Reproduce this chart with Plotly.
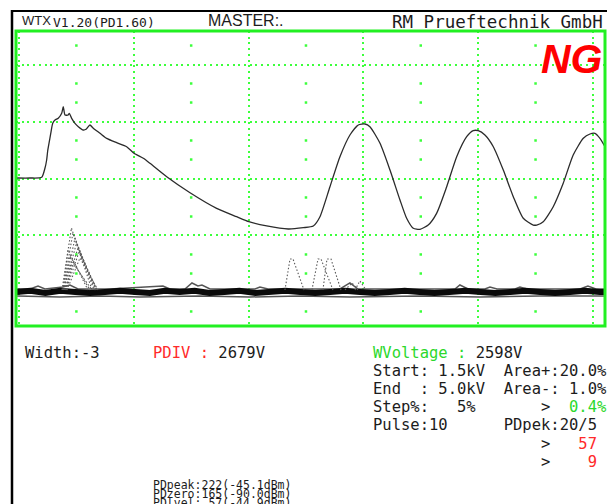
import plotly.graph_objects as go

# ---------------------------------------------------------------------------
# Screen geometry (pixels) and the scope graticule (in divisions)
# ---------------------------------------------------------------------------
W, H = 607, 504
L, R, T, B = 16, 605, 31, 326          # plotting window inside the green frame

X_RANGE = [-0.026, 5.105]
Y_RANGE = [-0.588, 4.588]
X_MAJOR = [0, 1, 2, 3, 4, 5]
Y_MAJOR = [0, 1, 2, 3, 4]
X_HALF = [0.5, 1.5, 2.5, 3.5, 4.5]
Y_THIRD = [-0.333, 0.333, 0.667, 1.333, 1.667, 2.333, 2.667, 3.333, 3.667, 4.333]

# ---------------------------------------------------------------------------
# Test-voltage trace (time in div, amplitude in div)
# ---------------------------------------------------------------------------
sig_t = [-0.017, 0.096, 0.198, 0.226, 0.241, 0.250, 0.264, 0.276, 0.294, 0.314,
         0.342, 0.372, 0.386, 0.401, 0.429, 0.438, 0.459, 0.488, 0.517, 0.560,
         0.584, 0.618, 0.647, 0.706, 0.764, 0.851, 0.938, 1.002, 1.083, 1.141,
         1.287, 1.490, 1.722, 1.896, 2.003, 2.158, 2.346, 2.477, 2.564, 2.622,
         2.709, 2.796, 2.883, 2.956, 3.014, 3.057, 3.145, 3.232, 3.319, 3.377,
         3.435, 3.493, 3.565, 3.638, 3.726, 3.813, 3.900, 3.957, 4.001, 4.059,
         4.132, 4.219, 4.306, 4.393, 4.480, 4.510, 4.567, 4.654, 4.741, 4.828,
         4.916, 4.974, 5.017, 5.061, 5.105]
sig_v = [2.009, 2.009, 2.021, 2.179, 2.325, 2.482, 2.646, 2.781, 2.968, 3.026,
         3.056, 3.144, 3.260, 3.114, 3.114, 3.144, 3.056, 2.968, 2.909, 2.851,
         2.863, 2.939, 2.881, 2.793, 2.705, 2.628, 2.558, 2.442, 2.354, 2.267,
         2.032, 1.751, 1.477, 1.330, 1.242, 1.167, 1.114, 1.137, 1.167, 1.330,
         1.856, 2.382, 2.763, 2.939, 2.956, 2.909, 2.618, 2.149, 1.623, 1.302,
         1.126, 1.109, 1.184, 1.389, 1.856, 2.382, 2.733, 2.839, 2.839, 2.763,
         2.558, 2.149, 1.681, 1.302, 1.184, 1.184, 1.242, 1.505, 1.916, 2.412,
         2.705, 2.781, 2.793, 2.705, 2.558]

# ---------------------------------------------------------------------------
# PD channel: baseline band and the recorded discharge pulses
# ---------------------------------------------------------------------------
band_t = [-0.02, 0.10, 0.23, 0.36, 0.49, 0.62, 0.75, 0.88, 1.01, 1.14, 1.27,
          1.40, 1.53, 1.66, 1.79, 1.92, 2.06, 2.19, 2.32, 2.45, 2.58, 2.71,
          2.84, 2.97, 3.10, 3.23, 3.36, 3.49, 3.62, 3.75, 3.89, 4.02, 4.15,
          4.28, 4.41, 4.54, 4.67, 4.80, 4.93, 5.06, 5.11]
band_v = [0.01, 0.03, -0.01, 0.03, 0.01, -0.01, 0.01, 0.03, 0.01, -0.01, 0.03,
          0.01, 0.03, -0.01, 0.01, 0.03, -0.01, 0.01, 0.03, 0.01, -0.01, 0.01,
          0.03, 0.01, -0.01, 0.01, 0.03, 0.01, -0.01, 0.01, 0.03, 0.01, -0.01,
          0.01, 0.03, 0.01, -0.01, 0.01, 0.03, 0.01, 0.01]

fringe_top_t = [-0.017, 0.096, 0.166, 0.226, 0.383, 0.444, 0.514, 0.793, 1.254,
                1.315, 1.446, 1.507, 1.559, 1.594, 1.664, 2.056, 2.099, 2.169,
                2.796, 2.883, 2.953, 3.798, 3.841, 3.911, 4.059, 4.103, 4.164,
                4.321, 4.364, 4.425, 4.887, 4.956, 5.026, 5.105]
fringe_top_v = [0.061, 0.061, 0.114, 0.061, 0.096, 0.132, 0.061, 0.061, 0.114,
                0.061, 0.061, 0.167, 0.114, 0.132, 0.061, 0.061, 0.096, 0.061,
                0.061, 0.167, 0.061, 0.061, 0.132, 0.061, 0.061, 0.096, 0.061,
                0.061, 0.096, 0.061, 0.061, 0.114, 0.061, 0.061]
fringe_low_t = [-0.017, 0.357, 0.706, 1.054, 1.577, 2.012, 2.448, 2.883, 3.493,
                4.016, 4.538, 5.105]
fringe_low_v = [-0.061, -0.079, -0.061, -0.079, -0.061, -0.079, -0.061, -0.079,
                -0.061, -0.079, -0.061, -0.061]

PD_BASE = 0.044
pd_start = [0.375, 0.383, 0.392, 0.392, 0.401, 0.409, 0.383, 0.392, 0.409, 0.418,
            2.317, 2.552, 2.648, 2.840, 2.927]
pd_top0 = [0.457, 0.470, 0.488, 0.501, 0.514, 0.523, 0.427, 0.444, 0.462, 0.531,
           2.361, 2.605, 2.683, 2.901, 2.970]
pd_top1 = [0.457, 0.470, 0.488, 0.501, 0.514, 0.523, 0.427, 0.444, 0.462, 0.531,
           2.387, 2.631, 2.718, 2.901, 2.970]
pd_peak = [1.132, 1.044, 0.956, 0.868, 0.781, 0.711, 0.746, 0.640, 0.535, 0.605,
           0.588, 0.588, 0.588, 0.167, 0.202]
pd_end = [0.636, 0.653, 0.662, 0.671, 0.679, 0.679, 0.601, 0.618, 0.636, 0.688,
          2.483, 2.735, 2.805, 2.953, 3.023]

# ---------------------------------------------------------------------------
# Colours and fonts
# ---------------------------------------------------------------------------
GRID = "#3cff3c"
FRAME = "#22f022"
INK = "#1c1c1c"
TRACE = "#2b2b2b"
RED = "#ff2a2a"
GREEN = "#2cd82c"
MONO = "DejaVu Sans Mono, Liberation Mono, monospace"
SANS = "Liberation Sans, Arial, sans-serif"

fig = go.Figure()

# sparse graticule dots on the half-division columns
gx, gy = [], []
for x in X_HALF:
    for y in Y_THIRD:
        gx.append(x)
        gy.append(y)
fig.add_trace(go.Scatter(x=gx, y=gy, mode="markers", hoverinfo="skip",
                         marker=dict(symbol="square", size=2.5, color=GRID,
                                     line=dict(width=0))))

# PD baseline band
fig.add_trace(go.Scatter(x=fringe_low_t, y=fringe_low_v, mode="lines",
                         line=dict(color="#555555", width=1.5), hoverinfo="skip"))
fig.add_trace(go.Scatter(x=fringe_top_t, y=fringe_top_v, mode="lines",
                         line=dict(color="#555555", width=1.5), hoverinfo="skip"))
fig.add_trace(go.Scatter(x=band_t, y=band_v, mode="lines",
                         line=dict(color="#0a0a0a", width=6), hoverinfo="skip"))

# PD pulses
px_, py_ = [], []
for s, a, b, p, e in zip(pd_start, pd_top0, pd_top1, pd_peak, pd_end):
    px_ += [s, a, b, e, None]
    py_ += [PD_BASE, p, p, PD_BASE, None]
fig.add_trace(go.Scatter(x=px_, y=py_, mode="lines", hoverinfo="skip",
                         line=dict(color="#5a5a5a", width=1.1, dash="1.5px,2px")))

# test voltage
fig.add_trace(go.Scatter(x=sig_t, y=sig_v, mode="lines", hoverinfo="skip",
                         line=dict(color=TRACE, width=1.3, shape="spline",
                                   smoothing=0.6)))

axis_common = dict(showticklabels=False, ticks="", zeroline=False, showline=False,
                   showgrid=True, gridcolor=GRID, gridwidth=2,
                   griddash="2px,3.7px", fixedrange=True)
fig.update_xaxes(range=X_RANGE, tickvals=X_MAJOR, **axis_common)
fig.update_yaxes(range=Y_RANGE, tickvals=Y_MAJOR, **axis_common)


def pxx(px):
    return (px - L) / (R - L)


def pxy(py):
    return (B - py) / (B - T)


shapes = [
    # green window frame
    dict(type="rect", xref="paper", yref="paper", x0=0, x1=1, y0=0, y1=1,
         line=dict(color=FRAME, width=3)),
    # screen border lines
    dict(type="line", xref="paper", yref="paper", x0=pxx(12), x1=pxx(12),
         y0=pxy(10), y1=pxy(H), line=dict(color="#000000", width=2.5)),
    dict(type="line", xref="paper", yref="paper", x0=pxx(11), x1=pxx(W),
         y0=pxy(11), y1=pxy(11), line=dict(color="#000000", width=2)),
]

annotations = []


def label(text, x, y, size, color=INK, family=MONO, xanchor="left"):
    annotations.append(dict(text=text, x=pxx(x), y=pxy(y), xref="paper",
                            yref="paper", xanchor=xanchor, yanchor="middle",
                            showarrow=False, borderpad=0,
                            font=dict(family=family, size=size, color=color)))


def nb(s):
    return s.replace(" ", "\u00a0")


def span(s, color):
    return f'<span style="color:{color}">{nb(s)}</span>'


# header
label("WTX", 21, 20.5, 13, family=SANS)
label("V1.20(PD1.60)", 52, 22.5, 13)
label("MASTER:.", 207, 20.5, 16, family=SANS)
label("RM Prueftechnik GmbH", 604, 22, 17.5, xanchor="right")

# result flag
annotations.append(dict(text="<b><i>NG</i></b>", x=pxx(604), y=pxy(59),
                        xref="paper", yref="paper", xanchor="right",
                        yanchor="middle", showarrow=False, borderpad=0,
                        font=dict(family=SANS, size=41, color="#ff0000")))

# status block
label(nb("Width:-3"), 24, 353, 15.5)
label(span("PDIV :", RED) + nb(" 2679V"), 152, 353, 15.5)

ROW_X = 372
label(span("WVoltage :", GREEN) + nb(" 2598V"), ROW_X, 352.5, 15.5)
label(nb("Start: 1.5kV  Area+:20.0%"), ROW_X, 371, 15.5)
label(nb("End  : 5.0kV  Area-: 1.0%"), ROW_X, 389, 15.5)
label(nb("Step%:   5%       >  ") + span("0.4%", GREEN), ROW_X, 407, 15.5)
label(nb("Pulse:10      PDpek:20/5"), ROW_X, 425.5, 15.5)
label(nb("                  >   ") + span("57", RED), ROW_X, 444, 15.5)
label(nb("                  >    ") + span("9", RED), ROW_X, 462, 15.5)

# PD level readout
label(nb("PDpeak:222(-45.1dBm)"), 152, 484.5, 11.5)
label(nb("PDzero:165(-90.0dBm)"), 152, 493.5, 11.5)
label(nb("PDlvel: 57(-44.9dBm)"), 152, 502.5, 11.5)

fig.update_layout(width=W, height=H,
                  margin=dict(l=L, r=W - R, t=T, b=H - B, pad=0),
                  paper_bgcolor="white", plot_bgcolor="white",
                  showlegend=False, shapes=shapes, annotations=annotations)

fig.write_html("out.html", config={"displayModeBar": False})
